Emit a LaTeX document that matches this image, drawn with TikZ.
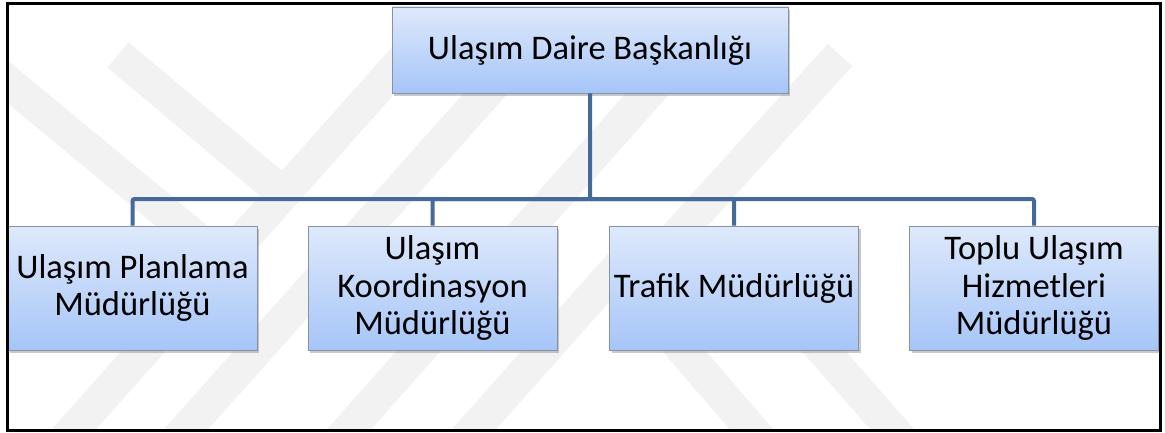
\documentclass[tikz,border=0pt]{standalone}
\usepackage{fontspec}
\setmainfont{Carlito}
\usetikzlibrary{shadows}
\definecolor{conncol}{RGB}{68,106,156}
\definecolor{boxtop}{RGB}{222,233,251}
\definecolor{boxbot}{RGB}{166,197,248}
\definecolor{boxedge}{RGB}{135,146,162}
\definecolor{wm}{RGB}{242,242,242}
\tikzset{
  orgbox/.style={draw=boxedge, line width=0.9pt, top color=boxtop, bottom color=boxbot,
    minimum width=249pt, minimum height=124pt, inner sep=0pt, align=center,
    font=\fontsize{34.5}{37.5}\selectfont,
    drop shadow={shadow xshift=2pt, shadow yshift=-3pt, opacity=0.35, fill=black!60}},
  conn/.style={draw=conncol, line width=4pt, rounded corners=2pt},
  band/.style={draw=wm, line width=33pt, line cap=butt},
}
\begin{document}
\begin{tikzpicture}[x=1pt,y=-1pt]
\useasboundingbox (0,0) rectangle (1165,433);
\fill[white] (0,0) rectangle (1165,433);
% faint watermark
\begin{scope}
\clip (7,4) rectangle (1160,430);
\draw[band] (60,445) -- (407,55);
\draw[band] (172,445) -- (520,55);
\draw[band] (335,445) -- (682,55);
\draw[band] (460,445) -- (620,265);
\draw[band] (840,55) -- (650,265);
\draw[band] (118,55) -- (285,195);
\draw[band] (-25,55) -- (235,270);
\draw[band] (765,445) -- (640,300);
\draw[band] (906,445) -- (770,290);
\end{scope}
\coordinate (bus) at (0,199);
\node[orgbox, minimum width=396pt, minimum height=86pt] (top) at (590,50) {Ulaşım Daire Başkanlığı};
\node[orgbox] (b1) at (132.5,288) {Ulaşım Planlama\\Müdürlüğü};
\node[orgbox] (b2) at (432.5,288) {Ulaşım\\Koordinasyon\\Müdürlüğü};
\node[orgbox] (b3) at (734,288) {Trafik Müdürlüğü};
\node[orgbox] (b4) at (1034,288) {Toplu Ulaşım\\Hizmetleri\\Müdürlüğü};
\draw[conn] (top.south) -- (top.south |- bus) -| (b1.north);
\draw[conn] (top.south |- bus) -| (b2.north);
\draw[conn] (top.south |- bus) -| (b3.north);
\draw[conn] (top.south |- bus) -| (b4.north);
\draw[black, line width=3pt] (7,4) rectangle (1160,430);
\end{tikzpicture}
\end{document}
